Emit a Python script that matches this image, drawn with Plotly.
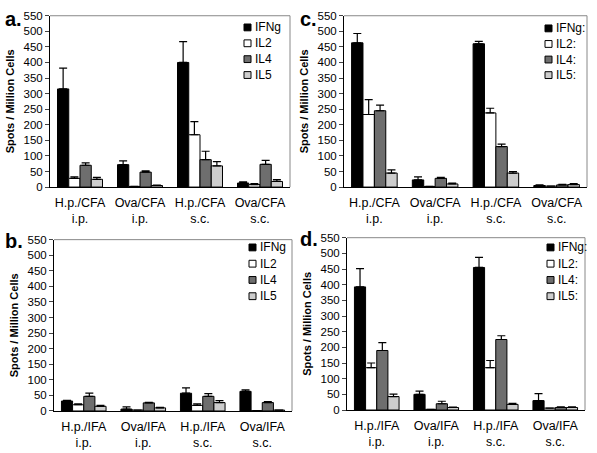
import plotly.graph_objects as go

series_ab = ["IFNg", "IL2", "IL4", "IL5"]
series_cd = ["IFNg:", "IL2:", "IL4:", "IL5:"]

cats_cfa = ["H.p./CFA<br>i.p.", "Ova/CFA<br>i.p.", "H.p./CFA<br>s.c.", "Ova/CFA<br>s.c."]
cats_ifa = ["H.p./IFA<br>i.p.", "Ova/IFA<br>i.p.", "H.p./IFA<br>s.c.", "Ova/IFA<br>s.c."]

# panel a (CFA)
a_ifng = [315, 72, 400, 13]
a_il2 = [28, 2, 168, 8]
a_il4 = [70, 48, 88, 73]
a_il5 = [25, 5, 68, 18]
a_ifng_err = [67, 12, 67, 4]
a_il2_err = [5, 0, 42, 3]
a_il4_err = [8, 4, 27, 13]
a_il5_err = [6, 1, 14, 6]

# panel b (IFA)
b_ifng = [32, 6, 57, 63]
b_il2 = [20, 3, 18, 1]
b_il4 = [47, 26, 47, 27]
b_il5 = [15, 10, 27, 3]
b_ifng_err = [2, 7, 17, 5]
b_il2_err = [3, 0, 5, 0]
b_il4_err = [10, 2, 9, 3]
b_il5_err = [3, 2, 6, 0]

# panel c (CFA)
c_ifng = [463, 23, 460, 5]
c_il2 = [233, 2, 238, 3]
c_il4 = [245, 28, 130, 7]
c_il5 = [45, 10, 45, 8]
c_ifng_err = [30, 10, 8, 2]
c_il2_err = [48, 0, 15, 0]
c_il4_err = [18, 3, 8, 2]
c_il5_err = [10, 3, 5, 3]

# panel d (IFA)
d_ifng = [393, 50, 455, 30]
d_il2 = [135, 2, 135, 6]
d_il4 = [190, 20, 225, 8]
d_il5 = [43, 8, 18, 8]
d_ifng_err = [58, 10, 32, 22]
d_il2_err = [15, 0, 23, 0]
d_il4_err = [25, 8, 12, 2]
d_il5_err = [8, 1, 3, 2]

y_ticks = list(range(0, 551, 50))

colors = ["#000000", "#ffffff", "#6e6e6e", "#cdcdcd"]

W, H = 597, 453


def px(x0, x1):
    return [x0 / W, x1 / W]


def py(top, bottom):
    return [1 - bottom / H, 1 - top / H]


panels = [
    dict(letter="a.", cats=cats_cfa, names=series_ab,
         vals=[a_ifng, a_il2, a_il4, a_il5],
         errs=[a_ifng_err, a_il2_err, a_il4_err, a_il5_err],
         box=(50, 290, 10, 186), leg=(244, 22, 16.3), lab=(3, 0)),
    dict(letter="b.", cats=cats_ifa, names=series_ab,
         vals=[b_ifng, b_il2, b_il4, b_il5],
         errs=[b_ifng_err, b_il2_err, b_il4_err, b_il5_err],
         box=(54, 292, 240, 416), leg=(249, 248, 16.7), lab=(3, 228)),
    dict(letter="c.", cats=cats_cfa, names=series_cd,
         vals=[c_ifng, c_il2, c_il4, c_il5],
         errs=[c_ifng_err, c_il2_err, c_il4_err, c_il5_err],
         box=(344, 587, 10, 186), leg=(545, 23, 16.0), lab=(298, 0)),
    dict(letter="d.", cats=cats_ifa, names=series_cd,
         vals=[d_ifng, d_il2, d_il4, d_il5],
         errs=[d_ifng_err, d_il2_err, d_il4_err, d_il5_err],
         box=(347, 585, 238, 415), leg=(547, 248, 16.7), lab=(298, 226)),
]

fig = go.Figure()
font = "Liberation Sans, Arial, sans-serif"
layout = dict(
    width=W, height=H, margin=dict(l=0, r=0, t=0, b=0),
    paper_bgcolor="white", plot_bgcolor="white",
    barmode="group", bargap=0.25, bargroupgap=0,
    font=dict(family=font, size=11, color="black"),
    showlegend=False,
)
annotations = []
shapes = []

for i, p in enumerate(panels):
    sfx = "" if i == 0 else str(i + 1)
    xa = "x" + sfx
    ya = "y" + sfx
    x0, x1, top, bot = p["box"]
    for j in range(4):
        fig.add_trace(go.Bar(
            x=p["cats"], y=p["vals"][j], name=p["names"][j],
            xaxis=xa, yaxis=ya,
            marker=dict(color=colors[j], line=dict(color="black", width=1)),
            error_y=dict(type="data", symmetric=False, array=p["errs"][j],
                         arrayminus=[0] * 4, color="black", thickness=1.2, width=4),
            offsetgroup=str(j),
        ))
    layout["xaxis" + sfx] = dict(
        domain=px(x0, x1), anchor=ya, showline=True, linecolor="black", linewidth=1,
        ticks="", showgrid=False, tickfont=dict(size=12.5), ticklabelstandoff=4,
        fixedrange=True,
    )
    layout["yaxis" + sfx] = dict(
        domain=py(top, bot), anchor=xa, range=[0, 550], tickvals=y_ticks,
        showline=True, linecolor="black", linewidth=1, ticks="outside", ticklen=4,
        showgrid=False, zeroline=False, tickfont=dict(size=11.5), fixedrange=True,
        title=dict(text="<b>Spots / Million Cells</b>", font=dict(size=11), standoff=6),
    )
    # thin gray top and right frame
    shapes.append(dict(type="line", xref="paper", yref="paper",
                       x0=x0 / W, x1=x1 / W, y0=1 - top / H, y1=1 - top / H,
                       line=dict(color="#888888", width=1)))
    shapes.append(dict(type="line", xref="paper", yref="paper",
                       x0=x1 / W, x1=x1 / W, y0=1 - bot / H, y1=1 - top / H,
                       line=dict(color="#888888", width=1)))
    # legend: small square keys with labels
    lx, ly, lstep = p["leg"]
    for j in range(4):
        cy = ly + j * lstep
        shapes.append(dict(type="rect", xref="paper", yref="paper",
                           x0=lx / W, x1=(lx + 7) / W,
                           y0=1 - (cy + 3.5) / H, y1=1 - (cy - 3.5) / H,
                           fillcolor=colors[j], line=dict(color="black", width=1)))
        annotations.append(dict(text=p["names"][j], xref="paper", yref="paper",
                                x=(lx + 9) / W, y=1 - cy / H, xanchor="left",
                                yanchor="middle", showarrow=False,
                                font=dict(size=12, family=font)))
    annotations.append(dict(text="<b>" + p["letter"] + "</b>", xref="paper", yref="paper",
                            x=p["lab"][0] / W, y=1 - p["lab"][1] / H,
                            xanchor="left", yanchor="top", showarrow=False,
                            font=dict(size=20, family=font)))

layout["annotations"] = annotations
layout["shapes"] = shapes
fig.update_layout(**layout)
fig.write_html("out.html", post_script="document.body.style.margin='0';",
               config={"displayModeBar": False})
